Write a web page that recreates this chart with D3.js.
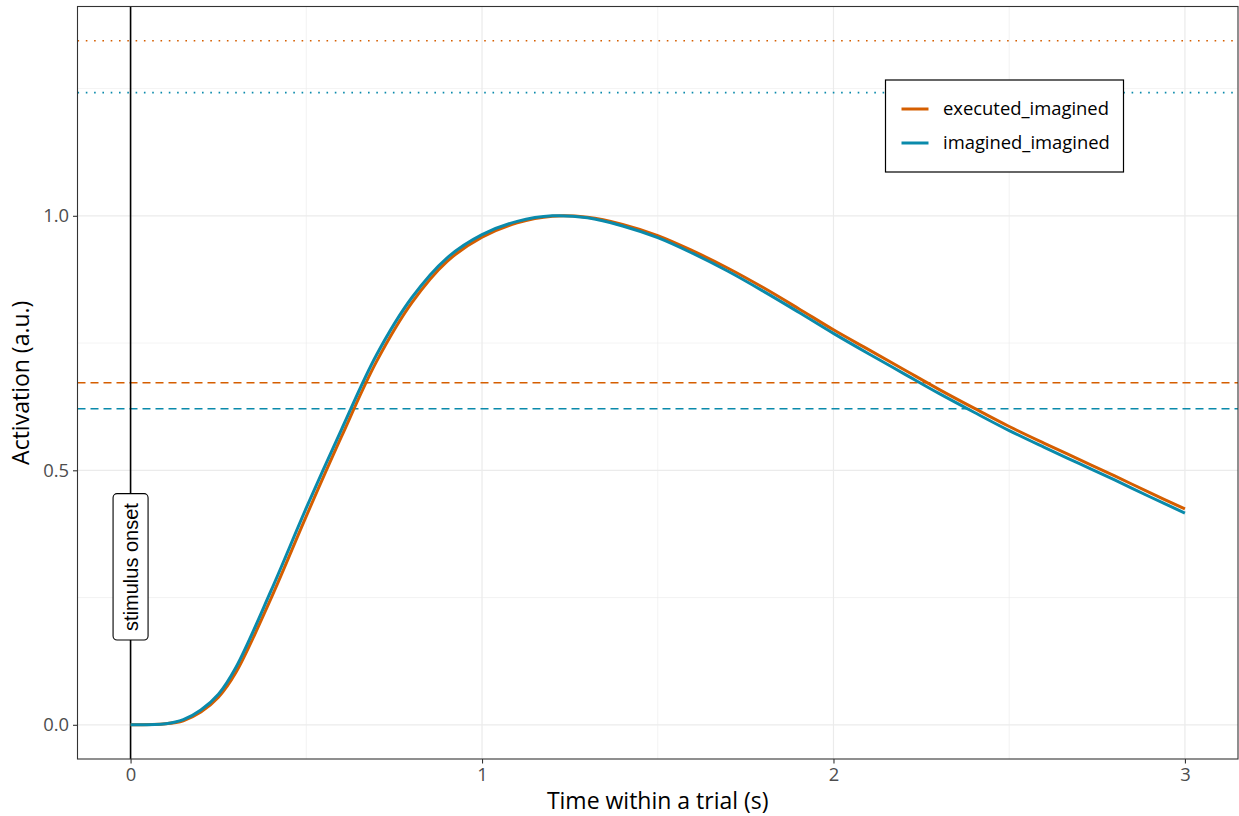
<!DOCTYPE html>
<html lang="en">
  <head>
    <meta charset="UTF-8" />
    <title>activation</title>
    <style>
      body { margin: 0; background: #fff; }
      text { font-family: "Open Sans", sans-serif; }
    </style>
  </head>
  <body>
    <div id="wrapper"></div>
    <script src="https://d3js.org/d3.v7.min.js"></script>
    <script>
      // time points (s)
      const time = [0, 0.1, 0.15, 0.2, 0.25, 0.3, 0.4, 0.5, 0.6, 0.7, 0.8, 0.9, 1.0,
                    1.1, 1.2, 1.3, 1.4, 1.5, 1.6, 1.7, 1.8, 1.9, 2.0,
                    2.1, 2.2, 2.3, 2.4, 2.5, 2.6, 2.7, 2.8, 2.9, 3.0];
      const executedImagined = [0, 0.002, 0.008, 0.025, 0.054, 0.103, 0.249, 0.410, 0.566, 0.714, 0.829, 0.910, 0.958,
                                0.986, 0.999, 0.997, 0.983, 0.961, 0.931, 0.897, 0.859, 0.818, 0.776,
                                0.737, 0.698, 0.659, 0.622, 0.586, 0.553, 0.521, 0.489, 0.456, 0.424];
      const imaginedImagined = [0, 0.002, 0.010, 0.029, 0.060, 0.113, 0.264, 0.426, 0.580, 0.727, 0.839, 0.917, 0.963,
                                0.989, 1.0, 0.996, 0.980, 0.957, 0.926, 0.891, 0.852, 0.811, 0.769,
                                0.729, 0.690, 0.651, 0.614, 0.578, 0.545, 0.513, 0.481, 0.448, 0.416];
      const seriesNames = ["executed_imagined", "imagined_imagined"];
      const seriesColors = ["#D55E00", "#0A8AAB"];
      // dashed = threshold, dotted = 2 x threshold
      const dashedLevels = [0.672, 0.621];
      const dottedLevels = [1.344, 1.242];
      const xTicks = [0, 1, 2, 3];
      const yTicks = [0, 0.5, 1.0];
      const onsetLabel = "stimulus onset";
      const onsetLabelY = 0.31;

      const W = 1239, H = 816;
      const margin = {top: 6.5, right: 1, bottom: 57, left: 77.5};

      const svg = d3.select("#wrapper").append("svg")
        .attr("width", W).attr("height", H);

      const x = d3.scaleLinear().domain([-0.151, 3.151]).range([margin.left, W - margin.right]);
      const y = d3.scaleLinear().domain([-0.0672, 1.4112]).range([H - margin.bottom, margin.top]);

      const grid = svg.append("g");
      const minorX = [0.5, 1.5, 2.5], minorY = [0.25, 0.75, 1.25];
      grid.selectAll(".mx").data(minorX).join("line")
        .attr("x1", d => x(d)).attr("x2", d => x(d))
        .attr("y1", y.range()[0]).attr("y2", y.range()[1])
        .attr("stroke", "#ebebeb").attr("stroke-width", 0.6);
      grid.selectAll(".my").data(minorY).join("line")
        .attr("y1", d => y(d)).attr("y2", d => y(d))
        .attr("x1", x.range()[0]).attr("x2", x.range()[1])
        .attr("stroke", "#ebebeb").attr("stroke-width", 0.6);
      grid.selectAll(".gx").data(xTicks).join("line")
        .attr("x1", d => x(d)).attr("x2", d => x(d))
        .attr("y1", y.range()[0]).attr("y2", y.range()[1])
        .attr("stroke", "#ebebeb").attr("stroke-width", 1.2);
      grid.selectAll(".gy").data(yTicks).join("line")
        .attr("y1", d => y(d)).attr("y2", d => y(d))
        .attr("x1", x.range()[0]).attr("x2", x.range()[1])
        .attr("stroke", "#ebebeb").attr("stroke-width", 1.2);

      // threshold lines
      svg.selectAll(".dashed").data(dashedLevels).join("line")
        .attr("x1", x.range()[0]).attr("x2", x.range()[1])
        .attr("y1", d => y(d)).attr("y2", d => y(d))
        .attr("stroke", (d, i) => seriesColors[i])
        .attr("stroke-width", 1.4)
        .attr("stroke-dasharray", "8,5");
      svg.selectAll(".dotted").data(dottedLevels).join("line")
        .attr("x1", x.range()[0]).attr("x2", x.range()[1])
        .attr("y1", d => y(d)).attr("y2", d => y(d))
        .attr("stroke", (d, i) => seriesColors[i])
        .attr("stroke-width", 1.6)
        .attr("stroke-dasharray", "1.6,6.7");

      // stimulus onset line
      svg.append("line")
        .attr("x1", x(0)).attr("x2", x(0))
        .attr("y1", y.range()[0]).attr("y2", y.range()[1])
        .attr("stroke", "#000").attr("stroke-width", 1.6);

      const line = d3.line()
        .x((d, i) => x(time[i]))
        .y(d => y(d))
        .curve(d3.curveCatmullRom.alpha(0.5));

      svg.selectAll(".series").data([executedImagined, imaginedImagined]).join("path")
        .attr("fill", "none")
        .attr("stroke", (d, i) => seriesColors[i])
        .attr("stroke-width", 3)
        .attr("d", d => line(d));

      // onset label
      const lab = svg.append("g")
        .attr("transform", `translate(${x(0)},${y(onsetLabelY)}) rotate(-90)`);
      const labText = lab.append("text")
        .attr("text-anchor", "middle")
        .attr("dy", "0.35em")
        .style("font-family", "'Liberation Sans', Arial, sans-serif")
        .style("font-size", "20px")
        .text(onsetLabel);
      const bb = labText.node().getBBox();
      lab.insert("rect", "text")
        .attr("x", bb.x - 9).attr("y", -17.5)
        .attr("width", bb.width + 18).attr("height", 35)
        .attr("rx", 4).attr("ry", 4)
        .attr("fill", "#fff").attr("stroke", "#000").attr("stroke-width", 1.1);

      // axes
      const xAxis = svg.append("g")
        .attr("transform", `translate(0,${H - margin.bottom})`)
        .call(d3.axisBottom(x).tickValues(xTicks).tickFormat(d3.format("d")).tickSizeOuter(0).tickSize(4.5).tickPadding(4));
      const yAxis = svg.append("g")
        .attr("transform", `translate(${margin.left},0)`)
        .call(d3.axisLeft(y).tickValues(yTicks).tickFormat(d3.format(".1f")).tickSizeOuter(0).tickSize(4.5).tickPadding(4));
      [xAxis, yAxis].forEach(a => {
        a.select(".domain").remove();
        a.selectAll(".tick line").attr("stroke", "#333").attr("stroke-width", 1.1);
        a.selectAll(".tick text").attr("fill", "#4d4d4d")
          .style("font-family", "'Open Sans', sans-serif").style("font-size", "18.4px");
      });

      // panel border
      svg.append("rect")
        .attr("x", x.range()[0]).attr("y", y.range()[1])
        .attr("width", x.range()[1] - x.range()[0])
        .attr("height", y.range()[0] - y.range()[1])
        .attr("fill", "none").attr("stroke", "#333").attr("stroke-width", 1.1);

      // axis titles
      svg.append("text")
        .attr("x", (x.range()[0] + x.range()[1]) / 2).attr("y", 809)
        .attr("text-anchor", "middle")
        .style("font-size", "23px")
        .text("Time within a trial (s)");
      svg.append("text")
        .attr("transform", `translate(29,${(y.range()[0] + y.range()[1]) / 2}) rotate(-90)`)
        .attr("text-anchor", "middle")
        .style("font-size", "23px")
        .text("Activation (a.u.)");

      // legend
      const leg = svg.append("g").attr("transform", "translate(885.5,80)");
      leg.append("rect")
        .attr("width", 238).attr("height", 92)
        .attr("fill", "#fff").attr("stroke", "#000").attr("stroke-width", 1.2);
      seriesNames.forEach((name, i) => {
        const yy = 29 + i * 34;
        leg.append("line")
          .attr("x1", 16).attr("x2", 43).attr("y1", yy).attr("y2", yy)
          .attr("stroke", seriesColors[i]).attr("stroke-width", 3);
        leg.append("text")
          .attr("x", 57.5).attr("y", yy).attr("dy", "0.35em")
          .style("font-size", "18.4px")
          .text(name);
      });
    </script>
  </body>
</html>
